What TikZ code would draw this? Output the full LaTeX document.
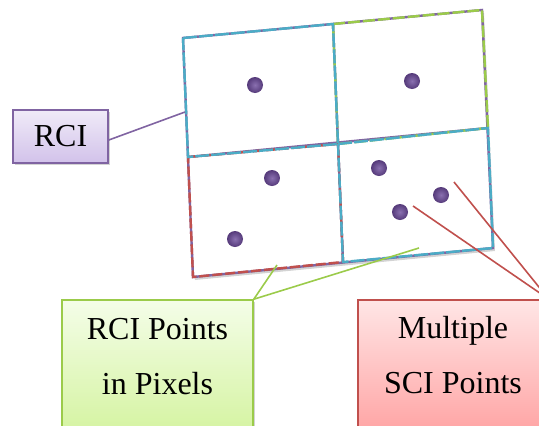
\documentclass[tikz,border=0pt]{standalone}
\usepackage{fontspec}
\setmainfont{Liberation Serif}
\usetikzlibrary{shadows}
\definecolor{cyanl}{HTML}{4BACC6}
\definecolor{greenl}{HTML}{9BCB4A}
\definecolor{redl}{HTML}{C0504D}
\definecolor{purl}{HTML}{8064A2}
\definecolor{dotc}{HTML}{553A7A}
\definecolor{dotin}{HTML}{8A70B0}
\definecolor{ptop}{HTML}{F0EBF8}
\definecolor{pbot}{HTML}{D2C2EA}
\definecolor{gtop}{HTML}{F4FDE8}
\definecolor{gbot}{HTML}{D6F4A4}
\definecolor{rtop}{HTML}{FFE6E6}
\definecolor{rbot}{HTML}{FFA6A6}
\tikzset{
  lbl/.style={draw, line width=1.6pt, inner sep=0pt,
    drop shadow={opacity=0.35, shadow xshift=2pt, shadow yshift=-2pt}},
  lbltext/.style={align=center, inner sep=0pt, font=\fontsize{32}{55}\selectfont},
  purbox/.style={lbl, draw=purl, top color=ptop, bottom color=pbot},
  grnbox/.style={lbl, draw=greenl, top color=gtop, bottom color=gbot},
  redbox/.style={lbl, draw=redl, top color=rtop, bottom color=rbot},
  dot/.style={circle, minimum size=16pt, inner sep=0pt, inner color=dotin, outer color=dotc},
  cellline/.style={line width=2.4pt, line join=miter},
  conn/.style={line width=1.6pt}
}
\begin{document}
\begin{tikzpicture}[x=1pt,y=-1pt]
\useasboundingbox (0,0) rectangle (539,426);
% grid corners
\coordinate (A1) at (183,38);
\coordinate (A2) at (333,24);
\coordinate (A3) at (482,10);
\coordinate (B1) at (188,157);
\coordinate (B2) at (338,144);
\coordinate (B3) at (488,128);
\coordinate (C1) at (193,277);
\coordinate (C2) at (343,262);
\coordinate (C3) at (493,248);
% background with shadow
\fill[white, drop shadow={opacity=0.35, shadow xshift=2pt, shadow yshift=-3pt}] (A1)--(A3)--(C3)--(C1)--cycle;
% purple base grid
\draw[cellline, purl] (A1)--(A3)--(C3)--(C1)--cycle (A2)--(C2) (B1)--(B3);
% coloured cells, dashed over the base
\draw[cellline, redl, dash pattern=on 10pt off 3pt] (B1)--(B2)--(C2)--(C1)--cycle;
\draw[cellline, greenl, dash pattern=on 12pt off 3pt] (A2)--(A3)--(B3)--(B2)--cycle;
\draw[cellline, cyanl, dash pattern=on 14pt off 2pt] (A1)--(A2)--(B2)--(B1)--cycle;
\draw[cellline, cyanl, dash pattern=on 14pt off 2pt] (B2)--(B3)--(C3)--(C2)--cycle;
% dots
\node[dot] (d1) at (255,85) {};
\node[dot] (d2) at (412,81) {};
\node[dot] (d3) at (272,178) {};
\node[dot] (d4) at (235,239) {};
\node[dot] (d5) at (379,168) {};
\node[dot] (d6) at (441,195) {};
\node[dot] (d7) at (400,212) {};
% label boxes
\node[purbox, minimum width=95pt, minimum height=53pt] (rci) at (60.5,136.5) {};
\node[lbltext] (rcit) at (rci.center) {RCI};
\node[grnbox, minimum width=191pt, minimum height=128pt] (pix) at (157.5,364) {};
\node[lbltext] (pixt) at (157.5,357) {RCI Points\\in Pixels};
\node[redbox, minimum width=190pt, minimum height=128pt] (sci) at (453,364) {};
\node[lbltext] (scit) at (453,355) {Multiple\\SCI Points};
% connector ends
\coordinate (rciend) at (185,112);
\coordinate (pixend1) at (277,265);
\coordinate (pixend2) at (419,248);
\coordinate (sciend1) at (413,206);
\coordinate (sciend2) at (454,182);
\draw[conn, purl] (rci.east |- 0,140) -- (rciend);
\draw[conn, greenl] (pix.north east) -- (pixend1);
\draw[conn, greenl] (pix.north east) -- (pixend2);
\draw[conn, redl] (sci.north east) -- (sciend1);
\draw[conn, redl] (sci.north east) -- (sciend2);
\end{tikzpicture}
\end{document}
